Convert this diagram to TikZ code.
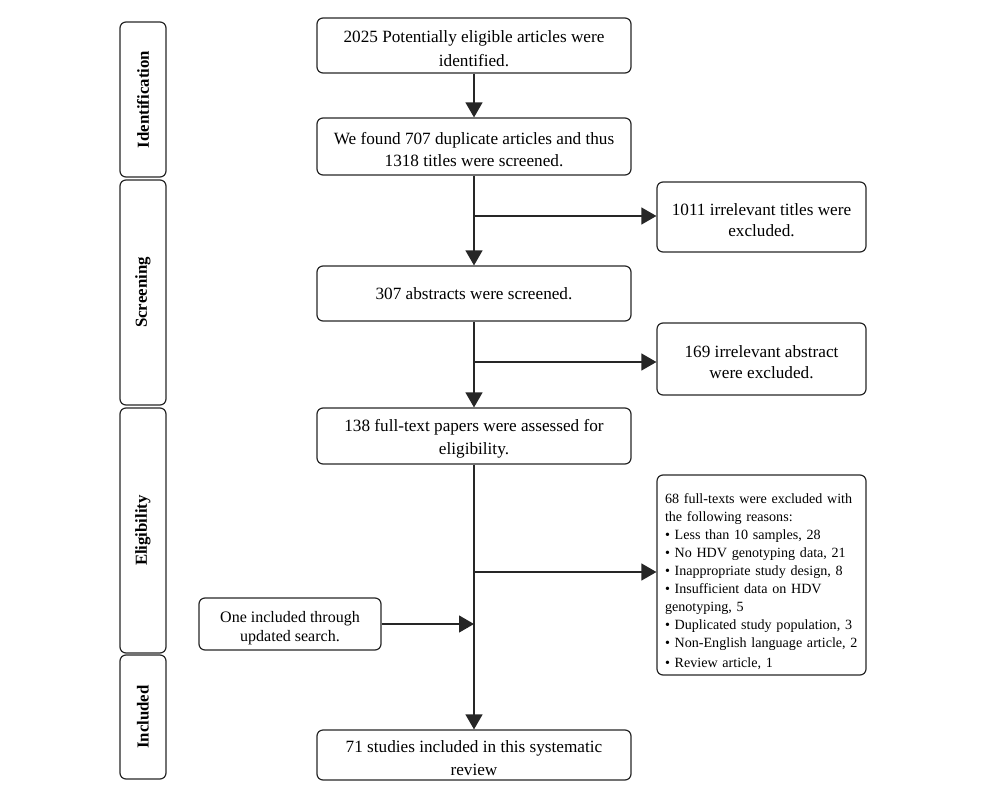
\documentclass[tikz,border=0pt]{standalone}
\usepackage{fontspec}
\setmainfont{Liberation Serif}
\usetikzlibrary{arrows.meta}
\newcommand{\topstrut}{\rule{0pt}{18pt}}
\begin{document}
\begin{tikzpicture}[x=1pt,y=-1pt,
  line/.style={line width=1.3pt, draw=black!85},
  arr/.style={line, -{Triangle[length=15pt,width=17pt]}},
  box/.style={draw=black!85, line width=1.2pt, rounded corners=6pt, align=center, inner sep=0pt,
    font=\fontsize{17.2}{22.5}\selectfont},
  sbox/.style={box, font=\fontsize{17.2}{21}\selectfont},
  lbox/.style={box, font=\fontsize{16}{19}\selectfont},
  exbox/.style={draw=black!85, line width=1.2pt, rounded corners=6pt, align=left, inner sep=0pt,
    font=\fontsize{14.1}{18}\selectfont},
  phase/.style={draw=black!85, line width=1.2pt, rounded corners=6pt, rotate=90, inner sep=0pt,
    font=\fontsize{16.8}{18}\selectfont\bfseries, minimum height=46pt}]
\useasboundingbox (0,0) rectangle (1000,802);
% phase boxes
\node[phase, minimum width=155pt] (pid) at (143,99.5) {Identification};
\node[phase, minimum width=225pt] (psc) at (143,292.5) {Screening};
\node[phase, minimum width=245pt] (pel) at (143,530.5) {Eligibility};
\node[phase, minimum width=124pt] (pin) at (143,717) {Included};
% main boxes
\node[box, minimum width=314pt, minimum height=55pt, font=\fontsize{17.2}{24}\selectfont] (b1) at (474,45.5) {\topstrut 2025 Potentially eligible articles were\\identified.};
\node[box, minimum width=314pt, minimum height=57pt] (b2) at (474,146.5) {\topstrut We found 707 duplicate articles and thus\\1318 titles were screened.};
\node[box, minimum width=314pt, minimum height=55pt] (b3) at (474,293.5) {307 abstracts were screened.};
\node[box, minimum width=314pt, minimum height=56pt] (b4) at (474,436) {\topstrut 138 full-text papers were assessed for\\eligibility.};
\node[box, minimum width=314pt, minimum height=50pt] (b5) at (474,755) {\topstrut 71 studies included in this systematic\\review};
% side boxes
\node[sbox, minimum width=209pt, minimum height=70pt] (r1) at (761.5,217) {\topstrut 1011 irrelevant titles were\\excluded.};
\node[sbox, minimum width=209pt, minimum height=72pt] (r2) at (761.5,359) {\topstrut 169 irrelevant abstract\\were excluded.};
\node[exbox, minimum width=209pt, minimum height=200pt, text width=193pt] (r3) at (761.5,575) {\rule{0pt}{24pt}68 full-texts were excluded with\\the following reasons:\\• Less than 10 samples, 28\\• No HDV genotyping data, 21\\• Inappropriate study design, 8\\• Insufficient data on HDV\\genotyping, 5\\• Duplicated study population, 3\\• Non-English language article, 2\\[2pt]• Review article, 1};
\node[lbox, minimum width=182pt, minimum height=52pt] (l1) at (290,624) {\rule{0pt}{19pt}One included through\\updated search.};
% junctions
\coordinate (j1) at (474,216);
\coordinate (j2) at (474,362);
\coordinate (j3) at (474,572);
\coordinate (j4) at (474,624);
% connectors
\draw[arr] (b1.south) -- (b2.north);
\draw[arr] (b2.south) -- (b3.north);
\draw[arr] (b3.south) -- (b4.north);
\draw[arr] (b4.south) -- (b5.north);
\draw[arr] (j1) -- (j1 -| r1.west);
\draw[arr] (j2) -- (j2 -| r2.west);
\draw[arr] (j3) -- (j3 -| r3.west);
\draw[arr] (l1.east |- j4) -- (j4);
\end{tikzpicture}
\end{document}
